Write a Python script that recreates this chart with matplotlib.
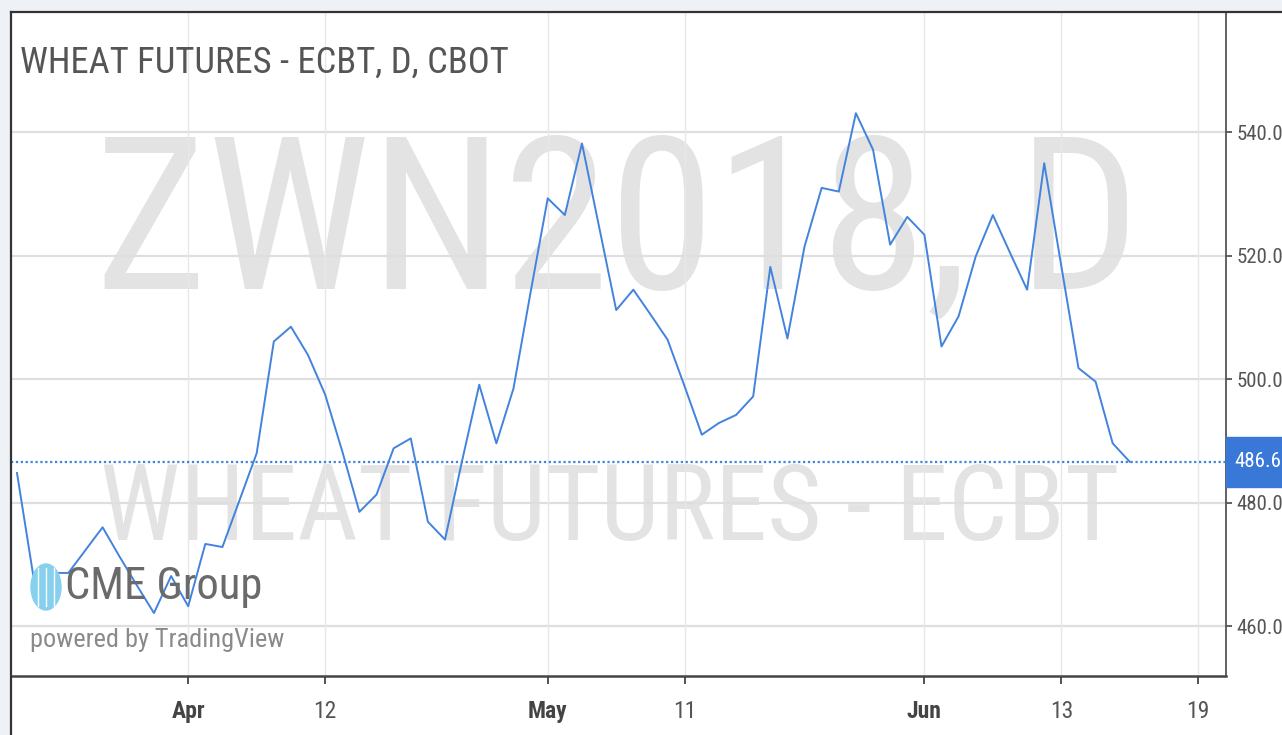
import matplotlib
matplotlib.use('Agg')
import matplotlib.pyplot as plt
import matplotlib.transforms as mtransforms
from matplotlib import font_manager
from matplotlib.patches import Rectangle, Ellipse
from matplotlib.lines import Line2D

# daily closes, ZWN2018 (bar index 0 = Mar 16, last bar = Jun 19)
closes = [484.8, 467.3, 468.6, 468.6, 472.3, 476.0, 471.2, 466.6, 462.1, 468.1,
          463.2, 473.3, 472.8, 480.4, 488.0, 506.1, 508.5, 503.9, 497.5, 488.3,
          478.5, 481.3, 488.8, 490.4, 476.9, 474.0, 486.8, 499.1, 489.6, 498.5,
          514.1, 529.3, 526.6, 538.2, 524.7, 511.2, 514.5, 510.5, 506.4, 498.8,
          491.0, 492.9, 494.2, 497.2, 518.2, 506.6, 521.5, 531.0, 530.4, 543.1,
          537.2, 521.8, 526.3, 523.4, 505.3, 510.2, 519.9, 526.6, 520.5, 514.5,
          535.0, 518.3, 501.8, 499.6, 489.6, 486.6]
tick_bars = [10, 18, 31, 39, 53, 61, 69]
tick_labels = ['Apr', '12', 'May', '11', 'Jun', '13', '19']
month_labels = ['Apr', 'May', 'Jun']
price_ticks = [460, 480, 500, 520, 540]

TITLE = 'WHEAT FUTURES - ECBT, D, CBOT'
BLUE = '#4283de'

available = {f.name for f in font_manager.fontManager.ttflist}
NARROW = next((n for n in ('Roboto Condensed', 'Liberation Sans Narrow', 'Open Sans Condensed')
               if n in available), 'DejaVu Sans')
plt.rcParams['font.family'] = [NARROW, 'DejaVu Sans']

W, H = 1282, 735
fig = plt.figure(figsize=(W / 100, H / 100), dpi=100, facecolor='white')
ax = fig.add_axes([11 / W, 59 / H, (1225.7 - 11) / W, (676 - 12) / H])
ax.set_xlim(-0.35, 70.6)
ax.set_ylim(451.9, 559.5)

# frame strips and borders like the screenshot
fig.add_artist(Rectangle((0, 0), 9 / W, 1, transform=fig.transFigure, color='#eef2f6', zorder=-1))
fig.add_artist(Rectangle((0, 1 - 10 / H), 1, 10 / H, transform=fig.transFigure, color='#eef2f6', zorder=-1))
fig.add_artist(Line2D([11 / W, 1], [1 - 12 / H] * 2, transform=fig.transFigure, color='#333333', lw=1.6))
fig.add_artist(Line2D([11 / W] * 2, [0, 1 - 12 / H], transform=fig.transFigure, color='#333333', lw=1.6))

for s in ('left', 'top'):
    ax.spines[s].set_visible(False)
ax.spines['right'].set_color('#555555')
ax.spines['right'].set_linewidth(1.3)
ax.spines['bottom'].set_color('#444444')
ax.spines['bottom'].set_linewidth(1.8)

# grid
for p in price_ticks:
    ax.axhline(p, color='#dedede', lw=1.6, zorder=1)
for b in tick_bars:
    ax.axvline(b, color='#e8e8e8', lw=1.0, zorder=1)

# watermarks
wm1 = ax.text(0.499, 0.672, 'ZWN2018, D', transform=ax.transAxes, ha='center', va='center',
              color='#e3e3e3', fontsize=100, zorder=0.5)
wm2 = ax.text(0.493, 0.247, 'WHEAT FUTURES - ECBT', transform=ax.transAxes, ha='center', va='center',
              color='#e3e3e3', fontsize=60, zorder=0.5)
title = ax.text(9 / 1214.7, 0.923, TITLE, transform=ax.transAxes, ha='left', va='center',
                color='#555555', fontsize=24, zorder=5)

# logo
cme = fig.text(65 / W, 1 - 587 / H, 'CME Group', ha='left', va='center', color='#6a6a6a', fontsize=24, zorder=6)
pw = fig.text(30 / W, 1 - 640 / H, 'powered by TradingView', ha='left', va='center', color='#8a8a8a',
              fontsize=14, zorder=6)
fig.add_artist(Ellipse((46 / W, 1 - 587 / H), 30 / W, 46 / H, transform=fig.transFigure,
                       color='#86d0ee', zorder=5))
for dx in (-8, 0, 8):
    fig.add_artist(Line2D([(46 + dx) / W] * 2, [1 - 568 / H, 1 - 606 / H], transform=fig.transFigure,
                          color='white', lw=1.0, zorder=5.5))

# price line
x = list(range(len(closes)))
ax.plot(x, closes, color=BLUE, lw=1.4, zorder=3)
last = closes[-1]
ax.axhline(last, color=BLUE, lw=1.6, ls=(0, (1, 1.2)), zorder=2.8)

# axes ticks
ax.yaxis.tick_right()
ax.set_yticks(price_ticks)
ax.set_yticklabels([f'{p:.1f}' for p in price_ticks])
ax.tick_params(axis='y', direction='out', length=4, width=1.3, color='#555555', pad=4,
               labelsize=15, labelcolor='#555555')
ax.set_xticks(tick_bars)
ax.set_xticklabels(tick_labels)
ax.tick_params(axis='x', direction='out', length=6, width=1.3, color='#444444', pad=11,
               labelsize=17, labelcolor='#555555')
for lbl in ax.get_xticklabels():
    if lbl.get_text() in month_labels:
        lbl.set_fontweight('bold')
        lbl.set_color('#444444')

# last price box on the price scale
blend = mtransforms.blended_transform_factory(ax.transAxes, ax.transData)
ax.add_patch(Rectangle((1.0, last - 4.1), 0.1, 8.2, transform=blend, color='#3a78d8',
                       clip_on=False, zorder=10))
ax.text(1.0075, last, f'{last:.1f}', transform=blend, ha='left', va='center', color='white',
        fontsize=15, clip_on=False, zorder=11)

# fit big texts to the widths seen in the screenshot
renderer = fig.canvas.get_renderer()
for t, target in ((wm1, 1045), (wm2, 1020), (title, 490), (cme, 197), (pw, 255)):
    w = t.get_window_extent(renderer).width
    t.set_fontsize(t.get_fontsize() * target / w)

fig.savefig('out.png', dpi=100, facecolor=fig.get_facecolor())
